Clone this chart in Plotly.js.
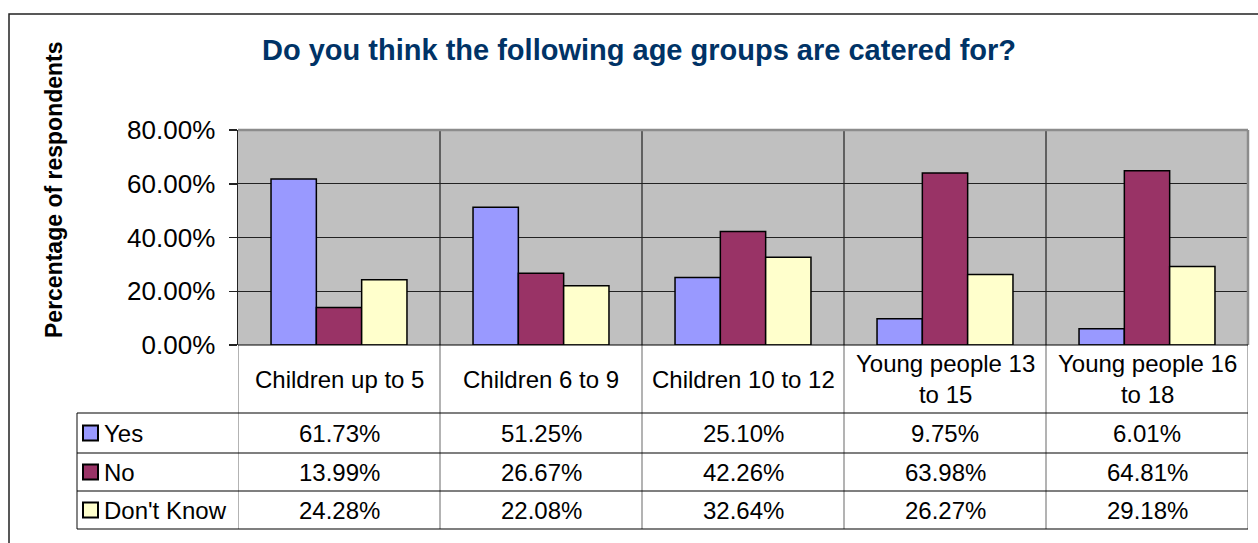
<!DOCTYPE html>
<html>
<head>
<meta charset="utf-8">
<script src="https://cdn.plot.ly/plotly-3.0.1.min.js"></script>
<style>html,body{margin:0;padding:0;background:#fff;}#chart{width:1258px;height:543px;}</style>
</head>
<body>
<div id="chart"></div>
<script>
const categories = ["Children up to 5", "Children 6 to 9", "Children 10 to 12", "Young people 13 to 15", "Young people 16 to 18"];
const categoryLabels = ["Children up to 5", "Children 6 to 9", "Children 10 to 12", "Young people 13<br>to 15", "Young people 16<br>to 18"];
const seriesNames = ["Yes", "No", "Don't Know"];
const yesValues = [61.73, 51.25, 25.10, 9.75, 6.01];
const noValues = [13.99, 26.67, 42.26, 63.98, 64.81];
const dontKnowValues = [24.28, 22.08, 32.64, 26.27, 29.18];
const yTicks = [0, 20, 40, 60, 80];
const yTickLabels = ["0.00%", "20.00%", "40.00%", "60.00%", "80.00%"];

const seriesValues = [yesValues, noValues, dontKnowValues];
const colors = ["#9999FF", "#993366", "#FFFFCC"];

const W = 1258, H = 543;
const L = 238, R = 1248, T = 130, B = 345;
const px = p => (p - L) / (R - L);
const py = p => (B - p) / (B - T);
const FONT = "Liberation Sans, Arial, sans-serif";

const xIdx = categories.map((c, i) => i);
const traces = seriesNames.map((name, s) => ({
  type: "bar",
  name: name,
  x: xIdx,
  y: seriesValues[s],
  marker: {color: colors[s], line: {color: "#000", width: 1.5}},
  hoverinfo: "none"
}));

const shapes = [];
const annotations = [];

// outer chart border
shapes.push({type: "rect", xref: "paper", yref: "paper", x0: px(9), x1: px(1270), y0: py(14), y1: py(560),
  line: {color: "#222", width: 1.5}, fillcolor: "rgba(0,0,0,0)", layer: "below"});

// plot area border (gray top & right)
shapes.push({type: "line", xref: "paper", yref: "paper", x0: 0, x1: 1, y0: 1, y1: 1, line: {color: "#8c8c8c", width: 2.5}});
shapes.push({type: "line", xref: "paper", yref: "paper", x0: 1, x1: 1, y0: 0, y1: 1, line: {color: "#8c8c8c", width: 2.5}});

// category separators inside plot
for (let i = 0; i < categories.length - 1; i++) {
  shapes.push({type: "line", xref: "x", yref: "paper", x0: i + 0.5, x1: i + 0.5, y0: 0, y1: 1, line: {color: "#000", width: 1}, layer: "below"});
}

// table vertical lines
for (let i = 0; i <= categories.length; i++) {
  shapes.push({type: "line", xref: "x", yref: "paper", x0: i - 0.5, x1: i - 0.5, y0: py(345), y1: py(529), line: {color: "#808080", width: 1.2}});
}
shapes.push({type: "line", xref: "paper", yref: "paper", x0: px(77), x1: px(77), y0: py(413), y1: py(529), line: {color: "#333", width: 1.2}});

// table horizontal lines
const rowLines = [413, 453, 491, 529];
rowLines.forEach(yv => {
  shapes.push({type: "line", xref: "paper", yref: "paper", x0: px(77), x1: 1, y0: py(yv), y1: py(yv), line: {color: "#000", width: 1.2}});
});
shapes.push({type: "line", xref: "paper", yref: "paper", x0: 0, x1: 1, y0: 0, y1: 0, line: {color: "#000", width: 1.2}});

// header labels
categoryLabels.forEach((lab, i) => {
  annotations.push({xref: "x", yref: "paper", x: i, y: py(379), text: lab, showarrow: false,
    xanchor: "center", yanchor: "middle", align: "center", font: {family: FONT, size: 24, color: "#000"}});
});

// rows
const rowCenters = [433, 472, 510];
seriesNames.forEach((name, s) => {
  const yc = rowCenters[s];
  shapes.push({type: "rect", xref: "paper", yref: "paper", x0: px(83), x1: px(98), y0: py(yc - 7.5), y1: py(yc + 7.5),
    fillcolor: colors[s], line: {color: "#000", width: 2}});
  annotations.push({xref: "paper", yref: "paper", x: px(102), y: py(yc), text: name, showarrow: false,
    xanchor: "left", yanchor: "middle", font: {family: FONT, size: 24, color: "#000"}});
  seriesValues[s].forEach((v, i) => {
    annotations.push({xref: "x", yref: "paper", x: i, y: py(yc), text: v.toFixed(2) + "%", showarrow: false,
      xanchor: "center", yanchor: "middle", font: {family: FONT, size: 24, color: "#000"}});
  });
});

// title
annotations.push({xref: "paper", yref: "paper", x: px(639), y: py(50), text: "<b>Do you think the following age groups are catered for?</b>",
  showarrow: false, xanchor: "center", yanchor: "middle", font: {family: FONT, size: 29, color: "#003366"}});

// y axis title
annotations.push({xref: "paper", yref: "paper", x: px(54), y: py(190), text: "<b>Percentage of respondents</b>",
  showarrow: false, textangle: -90, xanchor: "center", yanchor: "middle", font: {family: FONT, size: 23, color: "#000"}});

const layout = {
  width: W, height: H,
  margin: {l: L, r: W - R, t: T, b: H - B, pad: 0},
  paper_bgcolor: "#fff",
  plot_bgcolor: "#C0C0C0",
  showlegend: false,
  barmode: "group",
  bargap: 0.327,
  bargroupgap: 0,
  font: {family: FONT, color: "#000"},
  xaxis: {range: [-0.5, categories.length - 0.5], showticklabels: false, showgrid: false, zeroline: false,
    showline: false, ticks: "", fixedrange: true},
  yaxis: {range: [0, 80], tickmode: "array", tickvals: yTicks, ticktext: yTickLabels,
    showgrid: true, gridcolor: "#222", gridwidth: 1, zeroline: false,
    showline: true, linecolor: "#222", linewidth: 1.5,
    ticks: "outside", ticklen: 8, tickcolor: "#222", tickwidth: 1.5, ticklabelstandoff: 8,
    tickfont: {family: FONT, size: 26, color: "#000"}, fixedrange: true},
  shapes: shapes,
  annotations: annotations
};

Plotly.newPlot("chart", traces, layout, {displayModeBar: false, staticPlot: true});
</script>
</body>
</html>
